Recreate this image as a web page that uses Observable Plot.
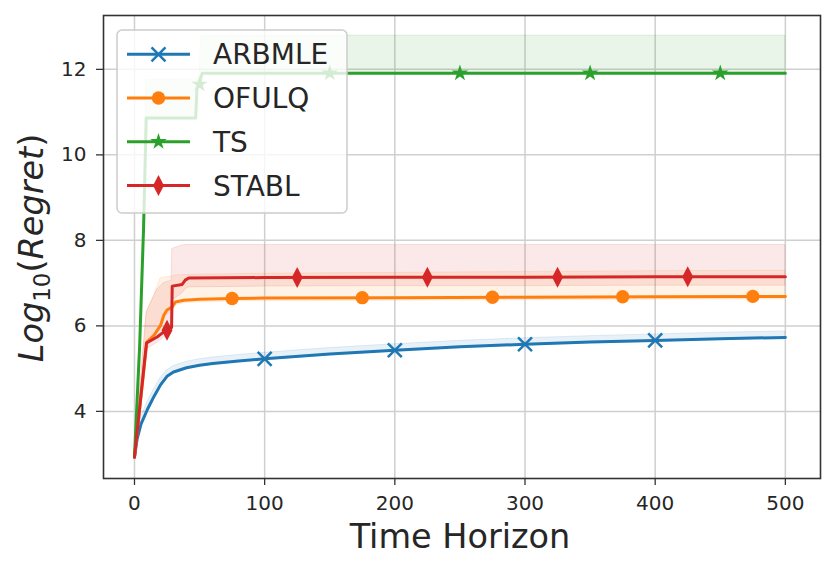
<!DOCTYPE html>
<html><head><meta charset="utf-8">
<script src="https://cdn.jsdelivr.net/npm/d3@7"></script>
<script src="https://cdn.jsdelivr.net/npm/@observablehq/plot@0.6"></script>
<style>body{margin:0;background:#fff} #chart{width:830px;height:571px}</style>
</head><body><div id="chart"></div>
<script>
// ---- Data ----
const xTicks = [0, 100, 200, 300, 400, 500];
const yTicks = [4, 6, 8, 10, 12];
const seriesNames = ["ARBMLE", "OFULQ", "TS", "STABL"];
const seriesColors = ["#1f77b4", "#ff7f0e", "#2ca02c", "#d62728"];

const arbT  = [0, 2, 5, 10, 15, 20, 25, 30, 40, 50, 60, 80, 100, 150, 200, 250, 300, 350, 400, 450, 500];
const arbY  = [2.93, 3.35, 3.70, 4.05, 4.35, 4.62, 4.82, 4.92, 5.02, 5.08, 5.12, 5.18, 5.23, 5.34, 5.43, 5.51, 5.57, 5.62, 5.66, 5.70, 5.73];
const arbHi = [2.95, 3.45, 3.85, 4.22, 4.52, 4.78, 4.96, 5.06, 5.16, 5.22, 5.26, 5.32, 5.37, 5.48, 5.57, 5.65, 5.71, 5.76, 5.80, 5.84, 5.87];
const arbLo = [2.91, 3.30, 3.64, 3.99, 4.29, 4.57, 4.78, 4.89, 4.99, 5.05, 5.09, 5.15, 5.20, 5.31, 5.40, 5.48, 5.54, 5.59, 5.63, 5.67, 5.70];
const arbMarkT = [100, 200, 300, 400];
const arbMarkY = [5.23, 5.43, 5.57, 5.66];

const ofuT  = [0, 9.5, 15, 20, 22.5, 25, 29, 31.5, 38, 50, 75, 100, 200, 300, 400, 500];
const ofuY  = [2.93, 5.62, 5.78, 6.01, 6.25, 6.37, 6.44, 6.56, 6.60, 6.62, 6.64, 6.65, 6.66, 6.67, 6.68, 6.69];
const ofuHi = [2.95, 6.33, 6.70, 7.11, 7.13, 7.14, 7.15, 7.18, 7.19, 7.20, 7.21, 7.22, 7.24, 7.26, 7.28, 7.29];
const ofuLo = [2.91, 5.55, 5.70, 5.90, 6.10, 6.25, 6.35, 6.48, 6.53, 6.55, 6.57, 6.58, 6.59, 6.60, 6.61, 6.62];
const ofuMarkT = [75, 175, 275, 375, 475];
const ofuMarkY = [6.64, 6.66, 6.67, 6.68, 6.69];

const tsT  = [0, 4, 7, 9, 47, 48, 50, 51, 52, 100, 200, 300, 400, 500];
const tsY  = [2.93, 5.55, 8.30, 10.86, 10.86, 11.55, 11.65, 11.80, 11.91, 11.91, 11.91, 11.91, 11.91, 11.91];
const tsHi = [2.95, 5.70, 8.60, 11.75, 11.77, 11.77, 11.78, 12.77, 12.78, 12.79, 12.79, 12.79, 12.79, 12.79];
const tsLo = [2.91, 5.50, 8.25, 10.83, 10.83, 11.50, 11.62, 11.77, 11.88, 11.88, 11.88, 11.88, 11.88, 11.88];
const tsMarkT = [50, 150, 250, 350, 450];
const tsMarkY = [11.65, 11.91, 11.91, 11.91, 11.91];

const stT  = [0, 9.2, 17.4, 22.5, 25.6, 28.5, 29, 36.6, 39, 41.7, 100, 200, 300, 400, 500];
const stY  = [2.93, 5.60, 5.74, 5.86, 5.90, 5.96, 6.93, 6.97, 7.07, 7.12, 7.13, 7.14, 7.14, 7.15, 7.15];
const stHi = [2.95, 6.30, 6.85, 7.00, 7.03, 7.05, 7.80, 7.88, 7.89, 7.89, 7.89, 7.89, 7.89, 7.89, 7.89];
const stLo = [2.91, 5.45, 5.60, 5.72, 5.76, 5.82, 6.60, 6.75, 6.85, 6.90, 6.92, 6.93, 6.93, 6.94, 6.94];
const stMarkT = [25, 125, 225, 325, 425];
const stMarkY = [5.90, 7.13, 7.14, 7.14, 7.15];

// ---- Symbols ----
const thinDiamond = {
  draw(ctx, size) {
    const r = Math.sqrt(size / Math.PI);
    const w = r * 0.52;
    ctx.moveTo(0, -r); ctx.lineTo(w, 0); ctx.lineTo(0, r); ctx.lineTo(-w, 0); ctx.closePath();
  }
};

const series = [
  {t: arbT, y: arbY, hi: arbHi, lo: arbLo, mt: arbMarkT, my: arbMarkY, symbol: "times", r: 6.4, filled: false},
  {t: ofuT, y: ofuY, hi: ofuHi, lo: ofuLo, mt: ofuMarkT, my: ofuMarkY, symbol: "circle", r: 6.7, filled: true},
  {t: tsT, y: tsY, hi: tsHi, lo: tsLo, mt: tsMarkT, my: tsMarkY, symbol: "star", r: 5.2, filled: true},
  {t: stT, y: stY, hi: stHi, lo: stLo, mt: stMarkT, my: stMarkY, symbol: thinDiamond, r: 10.5, filled: true}
].map((s, i) => ({
  ...s,
  name: seriesNames[i],
  color: seriesColors[i],
  rows: s.t.map((t, j) => ({t, y: s.y[j], hi: s.hi[j], lo: s.lo[j]})),
  marks: s.mt.map((t, j) => ({t, y: s.my[j]}))
}));

const marks = [
  Plot.gridX(xTicks, {stroke: "#cfcfcf", strokeOpacity: 1, strokeWidth: 1.5}),
  Plot.gridY(yTicks, {stroke: "#cfcfcf", strokeOpacity: 1, strokeWidth: 1.5})
];
for (const s of series) {
  marks.push(Plot.areaY(s.rows, {x: "t", y1: "lo", y2: "hi", fill: s.color, fillOpacity: 0.1,
    stroke: s.color, strokeOpacity: 0.12, strokeWidth: 1}));
}
for (const s of series) {
  marks.push(Plot.line(s.rows, {x: "t", y: "y", stroke: s.color, strokeWidth: 3}));
  if (s.filled) {
    marks.push(Plot.dot(s.marks, {x: "t", y: "y", symbol: s.symbol, r: s.r, fill: s.color, stroke: "none"}));
  } else {
    marks.push(Plot.dot(s.marks, {x: "t", y: "y", symbol: s.symbol, r: s.r, stroke: s.color, strokeWidth: 2.5, fill: "none"}));
  }
}
marks.push(
  Plot.axisX(xTicks, {tickSize: 7, tickPadding: 10, fontSize: 20, label: null, stroke: "#333", strokeWidth: 1.3, fill: "#262626"}),
  Plot.axisY(yTicks, {tickSize: 7, tickPadding: 10, fontSize: 20, label: null, stroke: "#333", strokeWidth: 1.3, fill: "#262626"}),
  Plot.frame({stroke: "#333", strokeWidth: 1.6})
);

const chart = Plot.plot({
  width: 830, height: 571,
  marginLeft: 103, marginRight: 10, marginTop: 15, marginBottom: 93,
  x: {domain: [-23.8, 527]},
  y: {domain: [2.43, 13.26]},
  style: {fontFamily: "DejaVu Sans", background: "white", color: "#262626", overflow: "visible"},
  marks
});
document.getElementById("chart").append(chart);

// ---- Axis titles & legend ----
const svg = d3.select(chart);
svg.append("text")
  .attr("x", 460).attr("y", 548)
  .attr("text-anchor", "middle")
  .attr("font-family", "DejaVu Sans").attr("font-size", 33.5).attr("fill", "#262626")
  .text("Time Horizon");

const yl = svg.append("text")
  .attr("transform", "translate(43,248) rotate(-90)")
  .attr("text-anchor", "middle")
  .attr("font-family", "DejaVu Sans").attr("font-size", 33.5).attr("fill", "#262626");
yl.append("tspan").attr("font-style", "italic").text("Log");
yl.append("tspan").attr("font-size", 23).attr("dy", 7).text("10");
yl.append("tspan").attr("dy", -7).text("(");
yl.append("tspan").attr("font-style", "italic").text("Regret");
yl.append("tspan").text(")");

const lg = svg.append("g");
lg.append("rect")
  .attr("x", 117).attr("y", 30).attr("width", 230).attr("height", 183)
  .attr("rx", 5).attr("fill", "white").attr("fill-opacity", 0.8)
  .attr("stroke", "#cccccc").attr("stroke-width", 1.5);
const rowY = [54.3, 98, 141.7, 185.5];
series.forEach((s, i) => {
  const cy = rowY[i];
  lg.append("line").attr("x1", 127).attr("x2", 190).attr("y1", cy).attr("y2", cy)
    .attr("stroke", s.color).attr("stroke-width", 3);
  let sym;
  if (s.symbol === "times") sym = d3.symbolTimes;
  else if (s.symbol === "circle") sym = d3.symbolCircle;
  else if (s.symbol === "star") sym = d3.symbolStar;
  else sym = s.symbol;
  const p = lg.append("path")
    .attr("transform", `translate(158.5,${cy})`)
    .attr("d", d3.symbol(sym, s.r * s.r * Math.PI)());
  if (s.filled) p.attr("fill", s.color);
  else p.attr("fill", "none").attr("stroke", s.color).attr("stroke-width", 2.5);
  lg.append("text").attr("x", 213).attr("y", cy + 10)
    .attr("text-anchor", "start")
    .attr("font-family", "DejaVu Sans").attr("font-size", 28).attr("fill", "#262626")
    .text(s.name);
});
</script>
</body></html>
